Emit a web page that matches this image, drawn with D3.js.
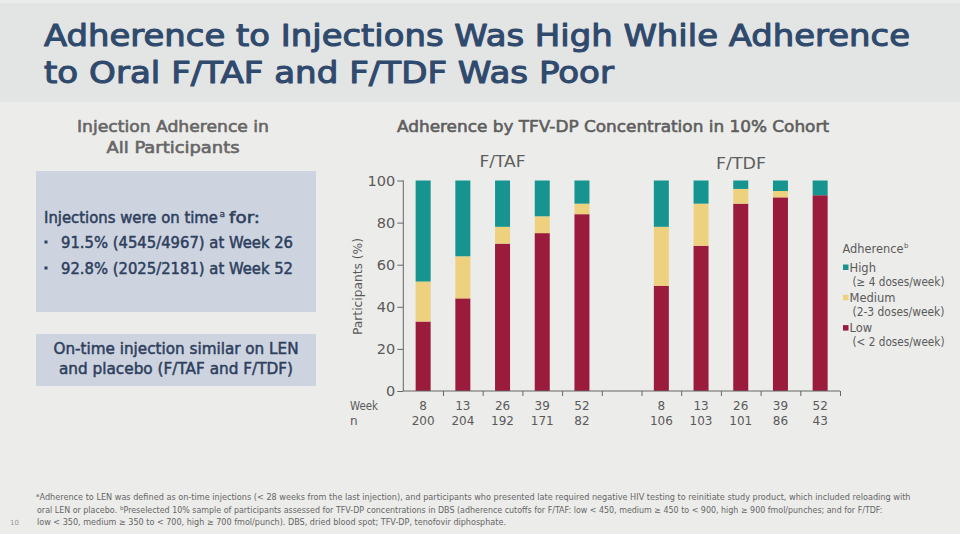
<!DOCTYPE html>
<html><head><meta charset="utf-8">
<script src="https://cdn.jsdelivr.net/npm/d3@7/dist/d3.min.js"></script>
<style>
html,body{margin:0;padding:0;background:#ececea;}
svg{display:block;}
text{font-family:"DejaVu Sans",Verdana,sans-serif;}
</style></head>
<body>
<svg id="c" width="960" height="534"></svg>
<script>
// ---- data ----
const weeks = ["8", "13", "26", "39", "52"];
const tafN = [200, 204, 192, 171, 82];
const tdfN = [106, 103, 101, 86, 43];
const tafLow = [33, 44, 70, 75, 84];
const tafMedium = [19, 20, 8, 8, 5];
const tafHigh = [48, 36, 22, 17, 11];
const tdfLow = [50, 69, 89, 92, 93];
const tdfMedium = [28, 20, 7, 3, 0];
const tdfHigh = [22, 11, 4, 5, 7];
const yTicks = [0, 20, 40, 60, 80, 100];
const seriesKeys = ["low", "medium", "high"];
const legendLabels = [["High", "(≥ 4 doses/week)"], ["Medium", "(2-3 doses/week)"], ["Low", "(< 2 doses/week)"]];
const colors = {high: "#17948f", medium: "#edd17f", low: "#9a1b3c"};

const rows = [];
weeks.forEach((w, i) => rows.push({key: "TAF-" + w, week: w, n: tafN[i], low: tafLow[i], medium: tafMedium[i], high: tafHigh[i]}));
rows.push({key: "gap", gap: true, low: 0, medium: 0, high: 0});
weeks.forEach((w, i) => rows.push({key: "TDF-" + w, week: w, n: tdfN[i], low: tdfLow[i], medium: tdfMedium[i], high: tdfHigh[i]}));

const svg = d3.select("#c");
const navy = "#2f4a6d", grey = "#5a5a5a";

// background pieces
svg.append("rect").attr("x", 0).attr("y", 0).attr("width", 960).attr("height", 534).attr("fill", "#ececea");
svg.append("rect").attr("x", 0).attr("y", 0).attr("width", 960).attr("height", 102).attr("fill", "#e3e4e4");
svg.append("rect").attr("x", 0).attr("y", 0).attr("width", 960).attr("height", 3).attr("fill", "#e9eced");

function txt(x, y, s, opt) {
  const t = svg.append("text").attr("x", x).attr("y", y).text(s)
    .attr("font-size", opt.size).attr("fill", opt.fill || grey)
    .attr("text-anchor", opt.anchor || "start");
  if (opt.stroke) t.attr("stroke", opt.fill || grey).attr("stroke-width", opt.stroke).attr("stroke-linejoin", "round");
  if (opt.len) t.attr("textLength", opt.len).attr("lengthAdjust", "spacingAndGlyphs");
  return t;
}

// title
txt(44, 46, "Adherence to Injections Was High While Adherence", {size: 31, fill: navy, stroke: 1.1, len: 866});
txt(44, 83, "to Oral F/TAF and F/TDF Was Poor", {size: 31, fill: navy, stroke: 1.1, len: 570});

// left panel
txt(173, 132, "Injection Adherence in", {size: 16, stroke: 0.6, fill: "#666", anchor: "middle", len: 192});
txt(173, 153, "All Participants", {size: 16, stroke: 0.6, fill: "#666", anchor: "middle", len: 133});
svg.append("rect").attr("x", 36).attr("y", 171).attr("width", 280).attr("height", 141).attr("fill", "#cdd4df");
svg.append("rect").attr("x", 36).attr("y", 334).attr("width", 280).attr("height", 52).attr("fill", "#cdd4df");
const boxCol = "#2e3f5e";
txt(44, 223, "Injections were on time", {size: 15, fill: boxCol, stroke: 0.5, len: 174});
txt(219.5, 217, "a", {size: 9, fill: boxCol, stroke: 0.3});
txt(229, 223, "for:", {size: 15, fill: boxCol, stroke: 0.5, len: 31});
[["91.5% (4545/4967) at Week 26", 247.5], ["92.8% (2025/2181) at Week 52", 273.5]].forEach(([s, y]) => {
  svg.append("rect").attr("x", 44.5).attr("y", y - 7).attr("width", 3).attr("height", 3).attr("fill", boxCol);
  txt(61, y, s, {size: 15, fill: boxCol, stroke: 0.5, len: 232});
});
txt(176, 354, "On-time injection similar on LEN", {size: 15, fill: boxCol, stroke: 0.5, anchor: "middle", len: 245});
txt(176, 374, "and placebo (F/TAF and F/TDF)", {size: 15, fill: boxCol, stroke: 0.5, anchor: "middle", len: 234});

// chart headings
txt(613, 132, "Adherence by TFV-DP Concentration in 10% Cohort", {size: 16, stroke: 0.6, fill: "#5e5e5e", anchor: "middle", len: 432});

// scales
const x = d3.scaleBand().domain(rows.map(d => d.key)).range([403.3, 840]).padding(0);
const y = d3.scaleLinear().domain([0, 100]).range([391, 180.5]);
const barW = 15;

txt(502.5, 166.5, "F/TAF", {size: 16, fill: "#5e5e5e", anchor: "middle", len: 46});
txt(741, 169, "F/TDF", {size: 16, fill: "#5e5e5e", anchor: "middle", len: 50});

// stacked bars
const stack = d3.stack().keys(seriesKeys)(rows);
const g = svg.append("g");
stack.forEach(layer => {
  g.selectAll(null).data(layer.filter(d => !d.data.gap)).enter().append("rect")
    .attr("x", d => x(d.data.key) + x.bandwidth() / 2 - barW / 2)
    .attr("width", barW)
    .attr("y", d => y(d[1]))
    .attr("height", d => y(d[0]) - y(d[1]))
    .attr("fill", colors[layer.key]);
});

// y axis
const yAxis = svg.append("g").attr("transform", "translate(403.3,0)")
  .call(d3.axisLeft(y).tickValues(yTicks).tickSize(6).tickPadding(2));
yAxis.selectAll("text").attr("font-size", 14.5).attr("fill", grey).attr("font-family", "DejaVu Sans");
yAxis.selectAll("line").attr("stroke", "#666");
yAxis.select(".domain").attr("stroke", "#666").attr("d", "M0," + y(100) + "V" + y(0));

// x axis (ticks at slot boundaries)
const xb = d3.scaleLinear().domain([0, rows.length]).range(x.range());
const xAxis = svg.append("g").attr("transform", "translate(0," + y(0) + ")")
  .call(d3.axisBottom(xb).tickValues(d3.range(1, rows.length + 1)).tickSize(5).tickFormat(""));
xAxis.select(".domain").attr("stroke", "#666").attr("d", "M" + x.range()[0] + ",0H" + x.range()[1]);
xAxis.selectAll("line").attr("stroke", "#666");

// x labels
const lab = rows.filter(d => !d.gap);
svg.selectAll(null).data(lab).enter().append("text")
  .attr("x", d => x(d.key) + x.bandwidth() / 2).attr("y", 409.5)
  .attr("text-anchor", "middle").attr("font-size", 12).attr("fill", grey).text(d => d.week);
svg.selectAll(null).data(lab).enter().append("text")
  .attr("x", d => x(d.key) + x.bandwidth() / 2).attr("y", 425)
  .attr("text-anchor", "middle").attr("font-size", 12).attr("fill", grey).text(d => d.n);
txt(350, 409.5, "Week", {size: 12, len: 28});
txt(350, 425, "n", {size: 12});

// y title
svg.append("text").attr("transform", "translate(362,286.5) rotate(-90)")
  .attr("text-anchor", "middle").attr("font-size", 13).attr("fill", grey)
  .attr("textLength", 97).attr("lengthAdjust", "spacingAndGlyphs").text("Participants (%)");

// legend
txt(842.5, 253, "Adherence", {size: 11.5, len: 61});
txt(904, 248, "b", {size: 7});
const lg = svg.append("g");
const legKeys = ["high", "medium", "low"];
legKeys.forEach((k, i) => {
  const yy = 271.5 + i * 30.3;
  lg.append("rect").attr("x", 843).attr("y", yy - 7).attr("width", 5.5).attr("height", 5.5).attr("fill", colors[k]);
  txt(849.5, yy, legendLabels[i][0], {size: 11.5});
  txt(852.5, yy + 14, legendLabels[i][1], {size: 11.5, len: 92});
});

// footnote
const fcol = "#666";
txt(36, 497, "a", {size: 5.5, fill: fcol});
txt(39.5, 500, "Adherence to LEN was defined as on-time injections (< 28 weeks from the last injection), and participants who presented late required negative HIV testing to reinitiate study product, which included reloading with", {size: 8.3, fill: fcol, len: 871});
txt(37, 512.5, "oral LEN or placebo.", {size: 8.3, fill: fcol, len: 80});
txt(120, 509.5, "b", {size: 5.5, fill: fcol});
txt(123.5, 512.5, "Preselected 10% sample of participants assessed for TFV-DP concentrations in DBS (adherence cutoffs for F/TAF: low < 450, medium ≥ 450 to < 900, high ≥ 900 fmol/punches; and for F/TDF:", {size: 8.3, fill: fcol, len: 759});
txt(37, 525, "low < 350, medium ≥ 350 to < 700, high ≥ 700 fmol/punch). DBS, dried blood spot; TFV-DP, tenofovir diphosphate.", {size: 8.3, fill: fcol, len: 469});
txt(10, 525, "10", {size: 7, fill: "#999"});
</script>
</body></html>
